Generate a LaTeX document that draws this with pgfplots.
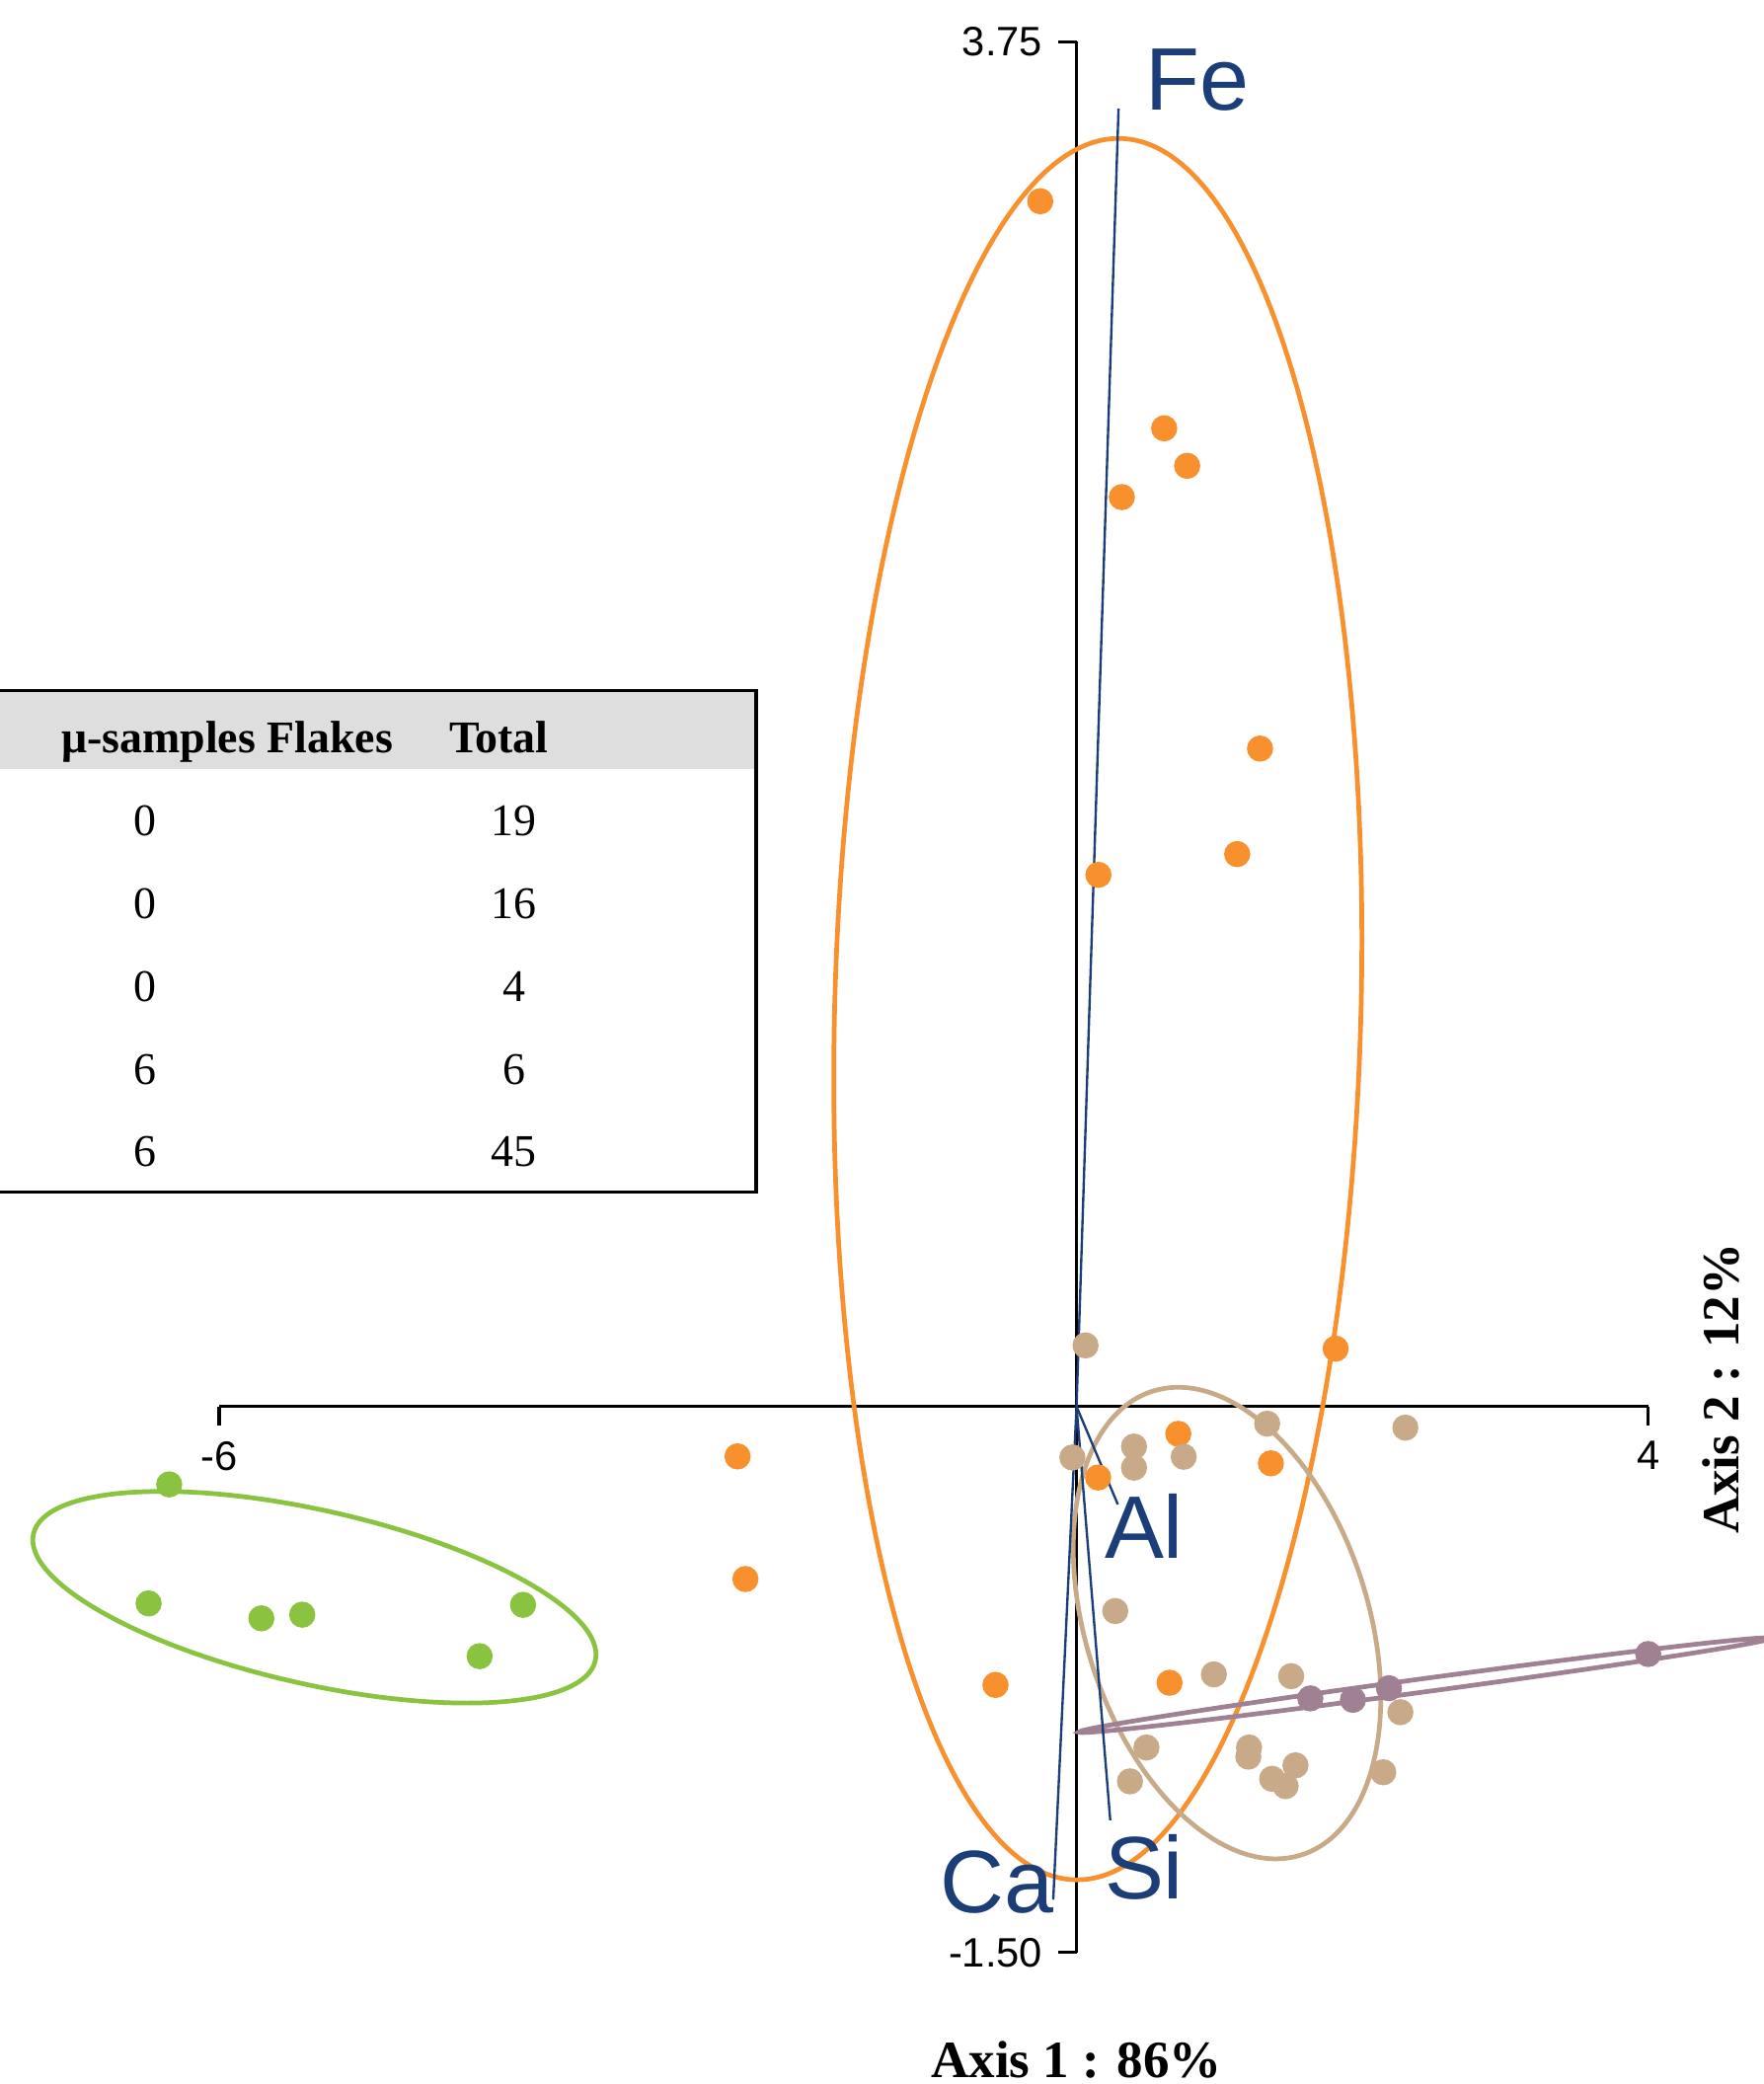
\documentclass[border=0pt]{standalone}
\usepackage{fontspec}
\setmainfont{Liberation Sans}
\newfontfamily\tnr{Liberation Serif}
\usepackage{pgfplots}
\pgfplotsset{compat=1.18}

\definecolor{cOrange}{RGB}{247,144,45}
\definecolor{cTan}{RGB}{200,170,136}
\definecolor{cGreen}{RGB}{138,195,64}
\definecolor{cPurple}{RGB}{160,129,148}
\definecolor{cBlue}{RGB}{28,62,120}
\definecolor{cHead}{RGB}{222,222,222}

\tikzset{
    dot/.style={only marks, mark=*, mark size=2.6pt, mark options={draw=none}},
    ell/.style={line width=1.0pt},
    load/.style={cBlue, line width=0.5pt, mark=none},
    lab/.style={anchor=base west, inner sep=0pt, text=cBlue, font=\fontsize{19}{22}\selectfont},
}

\begin{document}
\begin{tikzpicture}
\begin{axis}[
    at={(0,0)}, anchor=south west,
    x=1.0753cm, y=2.738cm,
    xmin=-6, xmax=4, ymin=-1.5, ymax=3.75,
    clip=false,
    axis lines=middle,
    axis line style={-, line width=0.7pt},
    xtick={-6,4}, xticklabels={-6,4},
    ytick={-1.5,3.75}, yticklabels={-1.50,3.75},
    tick align=outside,
    major tick length=0.14cm,
    tick style={black, line width=0.7pt},
    ticklabel style={font=\fontsize{8.8}{10}\selectfont},
    yticklabel style={inner sep=0pt, xshift=-0.11cm},
    /pgf/number format/assume math mode=true,
]
% group ellipses
\draw[ell, cOrange, rotate around={88.5:(axis cs:0.149,1.092)}] (axis cs:0.149,1.092) ellipse [x radius=6.553cm, y radius=1.98cm];
\draw[ell, cTan, rotate around={107.9:(axis cs:1.053,-0.595)}] (axis cs:1.053,-0.595) ellipse [x radius=1.832cm, y radius=1.062cm];
\draw[ell, cGreen, rotate around={-12.7:(axis cs:-5.333,-0.524)}] (axis cs:-5.333,-0.524) ellipse [x radius=2.167cm, y radius=0.654cm];
\draw[ell, cPurple, rotate around={7.72:(axis cs:2.439,-0.7655)}] (axis cs:2.439,-0.7655) ellipse [x radius=2.627cm, y radius=0.05cm];

% samples
\addplot[dot, cOrange] table {
x y
-0.254 3.312
0.613 2.688
0.774 2.585
0.317 2.499
1.284 1.808
1.124 1.518
0.153 1.461
1.813 0.159
0.712 -0.075
1.360 -0.156
0.151 -0.195
-2.372 -0.137
-2.317 -0.474
-0.567 -0.765
0.651 -0.759
};
\addplot[dot, cTan] table {
x y
0.063 0.168
1.334 -0.047
2.301 -0.058
0.402 -0.110
-0.029 -0.140
0.750 -0.138
0.402 -0.168
0.271 -0.562
0.961 -0.736
1.502 -0.741
2.266 -0.840
0.489 -0.937
1.207 -0.937
1.202 -0.962
1.532 -0.986
1.369 -1.023
1.463 -1.043
2.146 -1.005
0.374 -1.030
};
\addplot[dot, cGreen] table {
x y
-6.349 -0.214
-6.493 -0.541
-5.704 -0.582
-5.418 -0.572
-3.873 -0.545
-4.177 -0.686
};
\addplot[dot, cPurple] table {
x y
1.636 -0.802
1.934 -0.806
2.186 -0.774
4.000 -0.680
};

% variable loadings
\addplot[load] coordinates {(0,0) (0.294,3.567)};
\addplot[load] coordinates {(0,0) (0.289,-0.269)};
\addplot[load] coordinates {(0,0) (0.236,-1.137)};
\addplot[load] coordinates {(0,0) (-0.163,-1.355)};
\node[lab] at (axis cs:0.474,3.562) {Fe};
\node[lab] at (axis cs:0.190,-0.418) {Al};
\node[lab] at (axis cs:0.190,-1.353) {Si};
\node[lab] at (axis cs:-0.962,-1.39) {Ca};

% axis titles
\node[anchor=base, inner sep=0pt, font=\tnr\bfseries\fontsize{11.2}{13}\selectfont] at (axis cs:0,-1.843) {Axis 1 : 86\%};
\node[rotate=90, anchor=base, inner sep=0pt, font=\tnr\bfseries\fontsize{11.2}{13}\selectfont] at (axis cs:4.631,0.049) {Axis 2 : 12\%};

% summary table (left part is cut off by the page edge)
\fill[cHead] (axis cs:-9.393,1.751) rectangle (axis cs:-2.241,1.967);
\draw[line width=0.7pt] (axis cs:-9.393,0.590) rectangle (axis cs:-2.241,1.967);
\begin{scope}[every node/.style={anchor=base, inner sep=0pt, font=\tnr\fontsize{9.7}{11}\selectfont}]
\node[font=\tnr\bfseries\fontsize{9.7}{11}\selectfont] at (axis cs:-5.943,1.797) {μ-samples Flakes};
\node[font=\tnr\bfseries\fontsize{9.7}{11}\selectfont] at (axis cs:-4.043,1.797) {Total};
\node at (axis cs:-6.519,1.568) {0}; \node at (axis cs:-3.935,1.568) {19};
\node at (axis cs:-6.519,1.341) {0}; \node at (axis cs:-3.935,1.341) {16};
\node at (axis cs:-6.519,1.114) {0}; \node at (axis cs:-3.935,1.114) {4};
\node at (axis cs:-6.519,0.885) {6}; \node at (axis cs:-3.935,0.885) {6};
\node at (axis cs:-6.519,0.661) {6}; \node at (axis cs:-3.935,0.661) {45};
\end{scope}

\coordinate (bbSW) at (axis cs:-7.533,-1.8616);
\coordinate (bbNE) at (axis cs:4.808,3.865);
\end{axis}
\pgfresetboundingbox
\path[use as bounding box] (bbSW) rectangle (bbNE);
\end{tikzpicture}
\end{document}
